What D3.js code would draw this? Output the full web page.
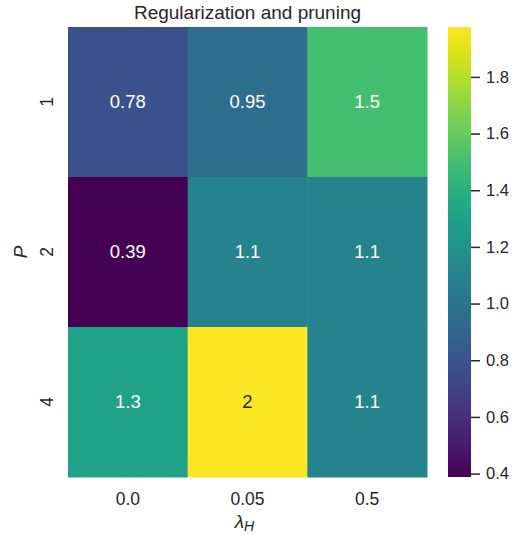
<!DOCTYPE html>
<html>
<head>
<meta charset="utf-8">
<script src="https://cdn.jsdelivr.net/npm/d3@7"></script>
<style>
  body { margin: 0; background: #fff; }
  text { font-family: "Liberation Sans", Arial, sans-serif; fill: #262626; }
</style>
</head>
<body>
<svg class="svg-main" width="512" height="535"></svg>
<script>
const svg = d3.select('.svg-main');

const lambdas = ["0.0", "0.05", "0.5"];
const pValues = ["1", "2", "4"];
// rows = P, cols = lambda
const values = [
  [0.78, 0.95, 1.5],
  [0.388, 1.1, 1.1],
  [1.3, 1.976, 1.1]
];
const cbarTicks = [0.4, 0.6, 0.8, 1.0, 1.2, 1.4, 1.6, 1.8];

const x0 = 68, x1 = 427, y0 = 27, y1 = 477;

const cells = [];
values.forEach((row, i) => row.forEach((v, j) => cells.push({ p: pValues[i], l: lambdas[j], v })));

const vmin = d3.min(values.flat()), vmax = d3.max(values.flat());
const color = d3.scaleSequential(d3.interpolateViridis).domain([vmin, vmax]);

const x = d3.scaleBand().domain(lambdas).range([x0, x1]);
const y = d3.scaleBand().domain(pValues).range([y0, y1]);

svg.append("g")
  .selectAll("rect")
  .data(cells)
  .enter().append("rect")
    .attr("x", (d) => x(d.l))
    .attr("y", (d) => y(d.p))
    .attr("width", x.bandwidth() + 0.5)
    .attr("height", y.bandwidth() + 0.5)
    .attr("fill", (d) => color(d.v));

const fmt = (v) => d3.format(".2g")(v).replace(/\.0+$/, "");

// relative luminance like seaborn
const lum = (c) => {
  const ch = [c.r, c.g, c.b].map((u) => {
    u /= 255;
    return u <= 0.03928 ? u / 12.92 : Math.pow((u + 0.055) / 1.055, 2.4);
  });
  return 0.2126 * ch[0] + 0.7152 * ch[1] + 0.0722 * ch[2];
};

svg.append("g")
  .selectAll("text")
  .data(cells)
  .enter().append("text")
    .attr("x", (d) => x(d.l) + x.bandwidth() / 2)
    .attr("y", (d) => y(d.p) + y.bandwidth() / 2)
    .attr("text-anchor", "middle")
    .attr("dy", "0.35em")
    .style("font-size", "18.5px")
    .style("fill", (d) => lum(d3.rgb(color(d.v))) > 0.408 ? "#262626" : "#ffffff")
    .text((d) => fmt(d.v));

// x tick labels
svg.append("g")
  .selectAll("text")
  .data(lambdas)
  .enter().append("text")
    .attr("x", (d) => x(d) + x.bandwidth() / 2)
    .attr("y", 499)
    .attr("dy", "0.35em")
    .attr("text-anchor", "middle")
    .style("font-size", "17.5px")
    .text((d) => d);

// y tick labels (rotated)
svg.append("g")
  .selectAll("text")
  .data(pValues)
  .enter().append("text")
    .attr("transform", (d) => `translate(47,${y(d) + y.bandwidth() / 2}) rotate(-90)`)
    .attr("dy", "0.35em")
    .attr("text-anchor", "middle")
    .style("font-size", "17.5px")
    .text((d) => d);

// axis labels
const xl = svg.append("text")
  .attr("x", (x0 + x1) / 2 - 3)
  .attr("y", 528)
  .attr("text-anchor", "middle")
  .style("font-size", "19px")
  .style("font-style", "italic");
xl.append("tspan").text("λ");
xl.append("tspan").attr("dy", "3").style("font-size", "14px").text("H");

svg.append("text")
  .attr("transform", `translate(20,${(y0 + y1) / 2}) rotate(-90)`)
  .attr("dy", "0.35em")
  .attr("text-anchor", "middle")
  .style("font-size", "19px")
  .style("font-style", "italic")
  .text("P");

svg.append("text")
  .attr("x", (x0 + x1) / 2)
  .attr("y", 12)
  .attr("dy", "0.35em")
  .attr("text-anchor", "middle")
  .style("font-size", "19px")
  .text("Regularization and pruning");

// colorbar
const cbX = 448, cbW = 23;
const cy = d3.scaleLinear().domain([vmin, vmax]).range([y1, y0]);
const defs = svg.append("defs");
const grad = defs.append("linearGradient")
  .attr("id", "cbar").attr("x1", 0).attr("y1", 1).attr("x2", 0).attr("y2", 0);
d3.range(0, 1.0001, 0.05).forEach((t) => {
  grad.append("stop").attr("offset", t).attr("stop-color", d3.interpolateViridis(t));
});
svg.append("rect")
  .attr("x", cbX).attr("y", y0)
  .attr("width", cbW).attr("height", y1 - y0)
  .attr("fill", "url(#cbar)");

const cAxis = svg.append("g")
  .attr("transform", `translate(${cbX + cbW},0)`)
  .call(d3.axisRight(cy).tickValues(cbarTicks).tickSize(9).tickPadding(6).tickFormat(d3.format(".1f")));
cAxis.select(".domain").remove();
cAxis.selectAll("line").attr("stroke", "#262626").attr("stroke-width", 1.5);
cAxis.selectAll("text").style("font-size", "16.5px").attr("fill", "#262626")
  .style("font-family", "'Liberation Sans', Arial, sans-serif");
</script>
</body>
</html>
